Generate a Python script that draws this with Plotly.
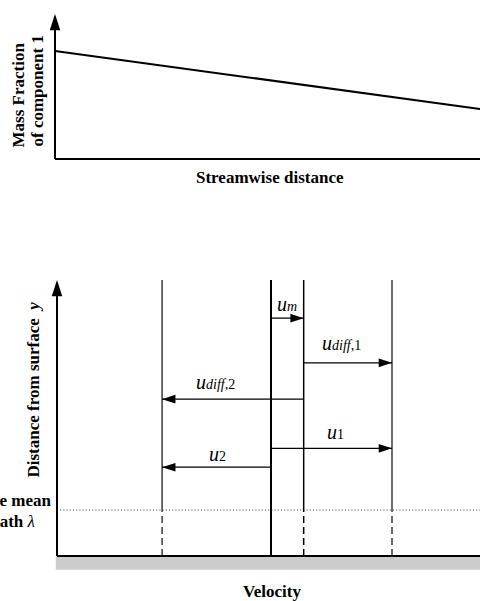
import plotly.graph_objects as go

W, H = 480, 601

# ---------------- data ----------------
# top panel: mass fraction of component 1 along the stream (normalised units)
streamwise_distance = [0.0, 1.0]
mass_fraction_1 = [0.745, 0.345]

# bottom panel: velocity schematic (velocities normalised by u1, heights by lambda)
u1 = 1.0
u2 = -0.9
u_m = 0.27
u_ref = 0.0
mean_free_path = 1.0
profile_top = 6.0

SUB = '<span style="font-size:14px">%s</span>'
arrow_labels = ["<i>u</i>" + SUB % "<i>m</i>",
                "<i>u</i>" + SUB % "<i>diff</i>,1",
                "<i>u</i>" + SUB % "<i>diff</i>,2",
                "<i>u</i>" + SUB % "1",
                "<i>u</i>" + SUB % "2"]
arrow_from = [u_ref, u_m, u_m, u_ref, u_ref]
arrow_to = [u_m, u1, u2, u1, u2]
arrow_height = [5.17, 4.20, 3.41, 2.34, 1.93]

top_title_lines = ["<b>Mass Fraction</b>", "<b>of component 1</b>"]
top_xlabel = "<b>Streamwise distance</b>"
bot_ylabel = "<b>Distance from surface\u00a0 <i>y</i></b>"
bot_xlabel = "<b>Velocity</b>"
lambda_lines = ["<b>Molecule mean</b>", "<b>free path </b><i>λ</i>"]

# ---------------- layout frame (pixel geometry) ----------------
TOP_X0, TOP_XS = 55.0, 425.0     # px = TOP_X0 + TOP_XS * s
TOP_Y0, TOP_YS = 159.0, 145.0    # py = TOP_Y0 - TOP_YS * m
TOP_DOM = (0.0, 200.0)
BOT_X0, BOT_XS = 271.0, 121.0
BOT_Y0, BOT_YS = 556.0, 46.0
BOT_DOM = (230.0, 601.0)
BOT_AXIS_PX = 57.0

top_xr = [(0 - TOP_X0) / TOP_XS, (W - TOP_X0) / TOP_XS]
top_yr = [(TOP_Y0 - TOP_DOM[1]) / TOP_YS, (TOP_Y0 - TOP_DOM[0]) / TOP_YS]
bot_xr = [(0 - BOT_X0) / BOT_XS, (W - BOT_X0) / BOT_XS]
bot_yr = [(BOT_Y0 - BOT_DOM[1]) / BOT_YS, (BOT_Y0 - BOT_DOM[0]) / BOT_YS]
axis_v0 = (BOT_AXIS_PX - BOT_X0) / BOT_XS


def px(x):
    return x / W


def py(y):
    return 1 - y / H


SERIF = "Liberation Serif, Times New Roman, serif"
BLACK = "#000000"
GRAY_LINE = "#3a3a3a"

fig = go.Figure()

# ---- top panel ----
fig.add_trace(go.Scatter(x=streamwise_distance, y=mass_fraction_1, mode="lines",
                         line=dict(color=BLACK, width=2), xaxis="x", yaxis="y",
                         hoverinfo="skip"))
fig.add_trace(go.Scatter(x=[0], y=[1.0], mode="markers", xaxis="x", yaxis="y",
                         marker=dict(symbol="arrow", size=17, angle=0, color=BLACK,
                                     line=dict(width=0)), hoverinfo="skip"))
fig.add_shape(type="line", xref="x", yref="y", x0=0, y0=0, x1=0, y1=0.9,
              line=dict(color=BLACK, width=2))
fig.add_shape(type="line", xref="x", yref="y", x0=0, y0=0, x1=top_xr[1], y1=0,
              line=dict(color=BLACK, width=2))

# ---- bottom panel ----
# wall
fig.add_shape(type="rect", xref="x2", yref="y2", x0=axis_v0 - 0.01, x1=bot_xr[1],
              y0=-0.3, y1=0, fillcolor="#cccccc", line=dict(width=0), layer="below")
# mean free path dotted line
fig.add_trace(go.Scatter(x=[axis_v0, bot_xr[1]], y=[mean_free_path, mean_free_path],
                         mode="lines", xaxis="x2", yaxis="y2", hoverinfo="skip",
                         line=dict(color=GRAY_LINE, width=1, dash="1px,2.2px")))

# velocity lines
vel_lines = [(u2, GRAY_LINE, 1.5, True), (u_ref, BLACK, 2, False),
             (u_m, BLACK, 1.5, True), (u1, GRAY_LINE, 1.5, True)]
for v, col, w, dashed_below in vel_lines:
    if dashed_below:
        fig.add_trace(go.Scatter(x=[v, v], y=[mean_free_path, profile_top], mode="lines",
                                 xaxis="x2", yaxis="y2", hoverinfo="skip",
                                 line=dict(color=col, width=w)))
        fig.add_trace(go.Scatter(x=[v, v], y=[0, mean_free_path], mode="lines",
                                 xaxis="x2", yaxis="y2", hoverinfo="skip",
                                 line=dict(color=col, width=w, dash="7px,4px")))
    else:
        fig.add_trace(go.Scatter(x=[v, v], y=[0, profile_top], mode="lines",
                                 xaxis="x2", yaxis="y2", hoverinfo="skip",
                                 line=dict(color=col, width=w)))

# axes
fig.add_shape(type="line", xref="x2", yref="y2", x0=axis_v0, y0=0, x1=axis_v0,
              y1=profile_top - 0.3, line=dict(color=BLACK, width=2))
fig.add_shape(type="line", xref="x2", yref="y2", x0=axis_v0, y0=0, x1=bot_xr[1], y1=0,
              line=dict(color=BLACK, width=2))
fig.add_trace(go.Scatter(x=[axis_v0], y=[profile_top], mode="markers", xaxis="x2", yaxis="y2",
                         marker=dict(symbol="arrow", size=17, angle=0, color=BLACK,
                                     line=dict(width=0)), hoverinfo="skip"))

# velocity arrows
label_dx = [0, -6, -17.5, 3.5, 1]
label_dy = [14.3, 20.1, 16.7, 16.7, 13.3]
for lab, a, b, h, dx, dy in zip(arrow_labels, arrow_from, arrow_to, arrow_height,
                                label_dx, label_dy):
    fig.add_trace(go.Scatter(x=[a, b], y=[h, h], mode="lines", xaxis="x2", yaxis="y2",
                             hoverinfo="skip", line=dict(color=BLACK, width=1.3)))
    fig.add_trace(go.Scatter(x=[b], y=[h], mode="markers", xaxis="x2", yaxis="y2",
                             hoverinfo="skip",
                             marker=dict(symbol="arrow", size=14,
                                         angle=90 if b > a else -90, color=BLACK,
                                         line=dict(width=0))))
    fig.add_annotation(x=(a + b) / 2, y=h, xref="x2", yref="y2", text=lab,
                       showarrow=False, xshift=dx, yshift=dy,
                       xanchor="center", yanchor="middle",
                       font=dict(family=SERIF, size=20, color=BLACK))

# ---- text labels ----
bold = dict(family=SERIF, size=17, color=BLACK)


def label(x, y, text, angle=0):
    fig.add_annotation(x=px(x), y=py(y), xref="paper", yref="paper",
                       text=text, textangle=angle, showarrow=False,
                       xanchor="center", yanchor="middle", font=bold)


label(18.5, 95, top_title_lines[0], -90)
label(37.5, 91, top_title_lines[1], -90)
label(269.5, 178, top_xlabel)
label(33, 389.5, bot_ylabel, -90)
label(272.4, 591, bot_xlabel)
label(-3.5, 500, lambda_lines[0])
label(-3.5, 521.5, lambda_lines[1])

hidden = dict(visible=False, showgrid=False, zeroline=False, fixedrange=True)
fig.update_layout(
    width=W, height=H, margin=dict(l=0, r=0, t=0, b=0),
    paper_bgcolor="white", plot_bgcolor="white", showlegend=False,
    xaxis=dict(domain=[0, 1], range=top_xr, anchor="y", **hidden),
    yaxis=dict(domain=[py(TOP_DOM[1]), py(TOP_DOM[0])], range=top_yr, anchor="x", **hidden),
    xaxis2=dict(domain=[0, 1], range=bot_xr, anchor="y2", **hidden),
    yaxis2=dict(domain=[py(BOT_DOM[1]), py(BOT_DOM[0])], range=bot_yr, anchor="x2", **hidden),
)

fig.write_html("out.html", config={"displayModeBar": False})
